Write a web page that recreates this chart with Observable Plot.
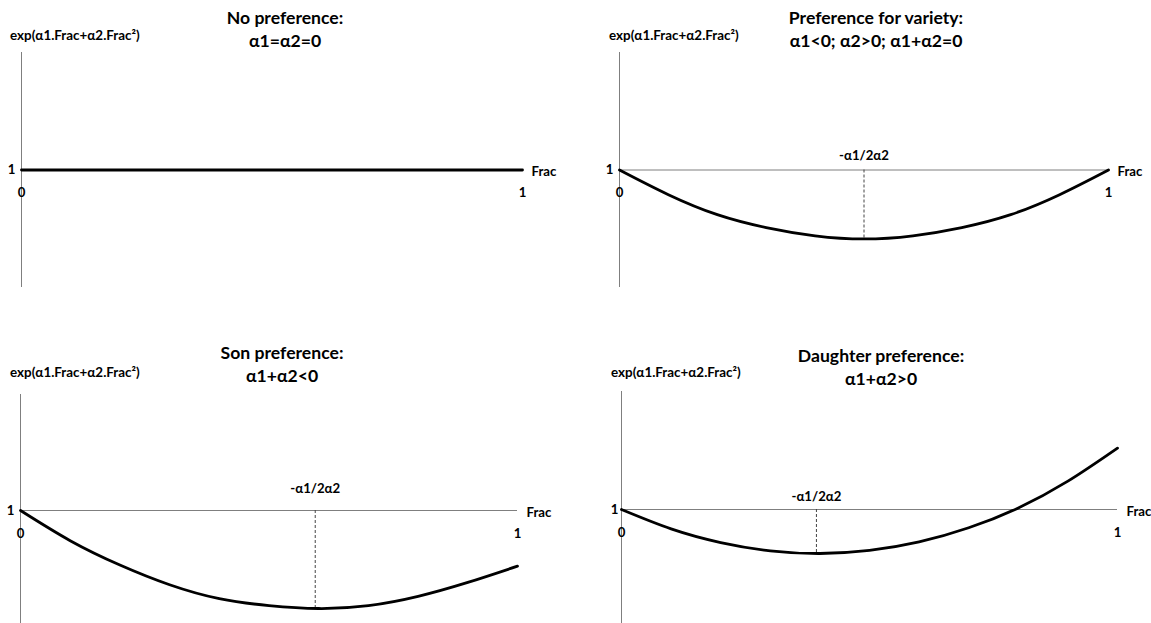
<!DOCTYPE html>
<html><head><meta charset="utf-8">
<script src="https://cdn.jsdelivr.net/npm/d3@7"></script>
<script src="https://cdn.jsdelivr.net/npm/@observablehq/plot@0.6"></script>
<style>
body{margin:0;background:#fff;}
#wrap{position:relative;width:1151px;height:623px;overflow:hidden;font-family:Lato,"Open Sans",sans-serif;font-weight:700;color:#000;}
.panel{position:absolute;}
.title{position:absolute;text-align:center;font-size:17.6px;line-height:23px;white-space:nowrap;transform:translateX(-50%);}
.ylab{position:absolute;font-size:13.4px;line-height:14px;white-space:nowrap;}
</style></head>
<body><div id="wrap"></div>
<script>
// ---- data ----
const frac = [0, 0.1, 0.2, 0.3, 0.4, 0.5, 0.6, 0.7, 0.8, 0.9, 1];
const noPreference = [1, 1, 1, 1, 1, 1, 1, 1, 1, 1, 1];
const variety = [1, 0.79, 0.62, 0.51, 0.44, 0.413, 0.44, 0.51, 0.62, 0.79, 1];
const son = [1, 0.74, 0.53, 0.36, 0.24, 0.18, 0.155, 0.18, 0.26, 0.38, 0.52];
const daughter = [1, 0.836, 0.72, 0.65, 0.627, 0.653, 0.725, 0.845, 1.013, 1.24, 1.52];
const vertexX = [null, 0.5, 0.593, 0.393];
const vertexY = [null, 0.413, 0.155, 0.627];
const titles = ["No preference:", "Preference for variety:", "Son preference:", "Daughter preference:"];
const subtitles = ["α1=α2=0", "α1<0; α2>0; α1+α2=0", "α1+α2<0", "α1+α2>0"];
const yLabel = "exp(α1.Frac+α2.Frac²)";
const xName = "Frac";
const vertexLabel = "-α1/2α2";
const xTickLabels = ["0", "1"];
const xTickValues = [0, 1];
const yTickLabel = "1";
const yTickValue = 1;
const series = [noPreference, variety, son, daughter];

// ---- layout ----
const layout = [
  {left:0,   top:0,   w:575, h:305, xr:[21,522], yr:[287,52], tx:285, ty:5.5,   lx:10,  ly:28,  ydx:-10, vdy:-14},
  {left:575, top:0,   w:576, h:305, xr:[44,533], yr:[287,52], tx:876, ty:5.5,   lx:609, ly:28,  ydx:-10, vdy:-14},
  {left:0,   top:305, w:575, h:318, xr:[20,517], yr:[321,89], tx:282, ty:340.5, lx:10,  ly:365, ydx:-10, vdy:-22},
  {left:575, top:305, w:576, h:318, xr:[46,542], yr:[322,86], tx:881, ty:343.5, lx:611, ly:365, ydx:-7,  vdy:-13}
];

const wrap = document.getElementById("wrap");
const txt = {fontSize: 13.2, fontWeight: 700, fill: "#000"};

layout.forEach((L, i) => {
  const data = frac.map((f, j) => ({f, v: series[i][j]}));
  const marks = [
    Plot.ruleX([0], {x: d => d, y1: 0, y2: 2, stroke: "#7f7f7f", strokeWidth: 1}),
    Plot.ruleY([yTickValue], {y: d => d, x1: 0, x2: 1, stroke: "#7f7f7f", strokeWidth: 1})
  ];
  if (vertexX[i] != null) {
    marks.push(Plot.ruleX([vertexX[i]], {x: d => d, y1: yTickValue, y2: vertexY[i], stroke: "#444", strokeWidth: 1, strokeDasharray: "3,2"}));
    marks.push(Plot.text([vertexX[i]], {x: d => d, y: yTickValue, dy: L.vdy, text: () => vertexLabel, ...txt}));
  }
  marks.push(Plot.line(data, {x: "f", y: "v", stroke: "#000", strokeWidth: 2.8, curve: "natural"}));
  marks.push(Plot.text(xTickValues, {x: d => d, y: yTickValue, dy: 23, text: (d, k) => xTickLabels[k], ...txt}));
  marks.push(Plot.text([yTickValue], {x: () => 0, y: d => d, dx: L.ydx, text: () => yTickLabel, ...txt}));
  marks.push(Plot.text([1], {x: d => d, y: yTickValue, dx: 9, dy: 2, textAnchor: "start", text: () => xName, ...txt}));

  const svg = Plot.plot({
    width: L.w, height: L.h,
    x: {domain: [0, 1], range: L.xr, axis: null},
    y: {domain: [0, 2], range: L.yr, axis: null},
    style: {fontFamily: "Lato, 'Open Sans', sans-serif", background: "transparent", overflow: "hidden"},
    marks
  });
  svg.classList.add("panel");
  svg.style.left = L.left + "px";
  svg.style.top = L.top + "px";
  wrap.appendChild(svg);

  const t = document.createElement("div");
  t.className = "title";
  t.style.left = L.tx + "px";
  t.style.top = L.ty + "px";
  t.innerHTML = titles[i] + "<br>" + subtitles[i];
  wrap.appendChild(t);

  const yl = document.createElement("div");
  yl.className = "ylab";
  yl.style.left = L.lx + "px";
  yl.style.top = L.ly + "px";
  yl.textContent = yLabel;
  wrap.appendChild(yl);
});
</script>
</body></html>
